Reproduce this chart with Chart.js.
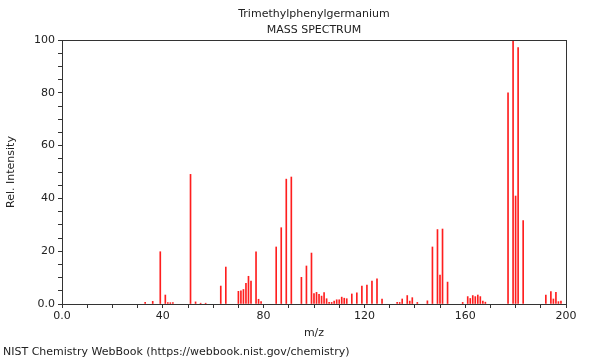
<!DOCTYPE html>
<html>
<head>
<meta charset="utf-8">
<script src="https://cdn.jsdelivr.net/npm/chart.js@4.4.1/dist/chart.umd.min.js"></script>
<style>
    body { margin: 0; background: #fff; }
    #wrap { position: relative; width: 600px; height: 360px; font-family: "DejaVu Sans", sans-serif; color: #222; }
    .title { position: absolute; left: 0; width: 628px; text-align: center; font-size: 11px; }
    #credit { position: absolute; left: 3px; top: 345px; font-size: 11px; }
</style>
</head>
<body>
<div id="wrap">
    <canvas id="msChart" width="600" height="360"></canvas>
    <div class="title" style="top: 7px;">Trimethylphenylgermanium</div>
    <div class="title" style="top: 23px;">MASS SPECTRUM</div>
    <div id="credit">NIST Chemistry WebBook (https://webbook.nist.gov/chemistry)</div>
</div>
<script>
// Peak positions (m/z) and relative intensities
const mz = [33, 36, 39, 41, 42, 43, 44, 51, 53, 55, 57, 63, 65, 70, 71, 72, 73, 74, 75, 77, 78, 79,
    85, 87, 89, 91, 95, 97, 99, 100, 101, 102, 103, 104, 105, 106, 107, 108, 109, 110, 111, 112, 113,
    115, 117, 119, 121, 123, 125, 127, 133, 134, 135, 137, 138, 139, 141, 145, 147, 149, 150, 151, 153,
    159, 161, 162, 163, 164, 165, 166, 167, 168, 177, 179, 180, 181, 183, 192, 194, 195, 196, 197, 198];
const intensity = [0.6, 1.0, 19.8, 3.4, 0.5, 0.5, 0.5, 49.1, 0.8, 0.3, 0.3, 6.8, 14.0, 4.8, 5.0, 5.5, 7.8, 10.5, 8.7, 19.8, 1.8, 0.9,
    21.6, 28.9, 47.3, 48.1, 10.1, 14.4, 19.3, 3.9, 4.4, 3.7, 3.0, 4.3, 2.0, 0.6, 0.6, 1.1, 1.6, 1.6, 2.6, 2.2, 2.0,
    3.8, 4.2, 6.8, 7.2, 8.7, 9.5, 1.9, 0.6, 0.6, 1.9, 3.2, 1.1, 2.4, 0.6, 1.2, 21.6, 28.2, 11.0, 28.4, 8.3,
    0.6, 2.8, 2.1, 3.2, 2.8, 3.4, 2.8, 1.1, 0.7, 80.0, 100.0, 40.9, 97.1, 31.6, 3.4, 4.7, 1.9, 4.4, 0.9, 1.1];

// Axis tick labels
const xLabelStep = 40;
const yLabelStep = 20;

document.addEventListener('DOMContentLoaded', function() {
    const axisColor = '#333';

    // frame around the plot area (top and right sides)
    const frame = {
        id: 'frame',
        afterDraw(chart) {
            const a = chart.chartArea;
            const ctx = chart.ctx;
            ctx.save();
            ctx.strokeStyle = axisColor;
            ctx.lineWidth = 1;
            ctx.strokeRect(Math.round(a.left) + 0.5, Math.round(a.top) + 0.5,
                Math.round(a.right - a.left), Math.round(a.bottom - a.top));
            ctx.restore();
        }
    };

    const points = mz.map((m, i) => ({ x: m, y: intensity[i] }));

    new Chart(document.getElementById('msChart'), {
        type: 'bar',
        data: {
            datasets: [{
                data: points,
                backgroundColor: 'rgb(255, 30, 30)',
                barThickness: 1,
                borderWidth: 0
            }]
        },
        options: {
            responsive: false,
            animation: false,
            layout: { padding: { left: 0, right: 34, top: 40, bottom: 0 } },
            plugins: {
                legend: { display: false },
                tooltip: { enabled: false }
            },
            scales: {
                x: {
                    type: 'linear',
                    min: 0,
                    max: 200,
                    offset: false,
                    afterFit: function(scale) { scale.height = 56; },
                    grid: { drawOnChartArea: false, offset: false, tickLength: 4, tickColor: axisColor },
                    border: { color: axisColor },
                    ticks: {
                        stepSize: 10,
                        autoSkip: false,
                        maxRotation: 0,
                        padding: 2,
                        color: '#222',
                        font: { family: 'DejaVu Sans', size: 11 },
                        callback: v => v % xLabelStep === 0 ? (v === 0 ? '0.0' : v) : ''
                    },
                    title: {
                        display: true,
                        text: 'm/z',
                        color: '#222',
                        font: { family: 'DejaVu Sans', size: 11 },
                        padding: { top: 0, bottom: 20 }
                    }
                },
                y: {
                    min: 0,
                    max: 100,
                    afterFit: function(scale) { scale.width = 62; },
                    grid: { drawOnChartArea: false, tickLength: 4, tickColor: axisColor },
                    border: { color: axisColor },
                    ticks: {
                        stepSize: 5,
                        autoSkip: false,
                        padding: 3,
                        color: '#222',
                        font: { family: 'DejaVu Sans', size: 11 },
                        callback: v => v % yLabelStep === 0 ? (v === 0 ? '0.0' : v) : ''
                    },
                    title: {
                        display: true,
                        text: 'Rel. Intensity',
                        color: '#222',
                        font: { family: 'DejaVu Sans', size: 11 },
                        padding: { top: 5, bottom: 0 }
                    }
                }
            }
        },
        plugins: [frame]
    });
});
</script>
</body>
</html>
